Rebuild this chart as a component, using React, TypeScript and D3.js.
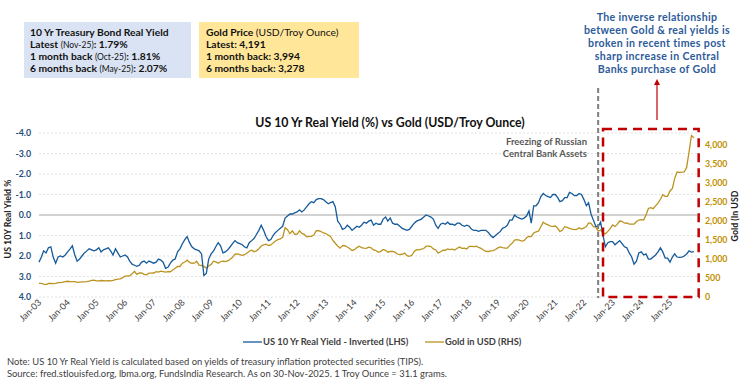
import React from 'react';
import * as d3 from 'd3';

// x axis labels, one per January
const tickLabels = [
  'Jan-03', 'Jan-04', 'Jan-05', 'Jan-06', 'Jan-07', 'Jan-08', 'Jan-09', 'Jan-10',
  'Jan-11', 'Jan-12', 'Jan-13', 'Jan-14', 'Jan-15', 'Jan-16', 'Jan-17', 'Jan-18',
  'Jan-19', 'Jan-20', 'Jan-21', 'Jan-22', 'Jan-23', 'Jan-24', 'Jan-25',
];

// monthly US 10Y real yield (%), Jan-2003 .. Nov-2025
const realYield = [
  2.30, 2.05, 1.75, 1.85, 1.60, 1.55, 2.05, 2.35, 2.05, 2.00, 2.05, 1.95,
  1.80, 1.65, 1.50, 1.95, 2.25, 2.15, 2.00, 1.85, 1.75, 1.65, 1.70, 1.75,
  1.70, 1.60, 1.80, 1.70, 1.65, 1.60, 1.75, 1.95, 1.65, 1.85, 2.05, 2.00,
  1.95, 2.05, 2.25, 2.40, 2.45, 2.50, 2.45, 2.30, 2.25, 2.35, 2.25, 2.30,
  2.35, 2.30, 2.15, 2.20, 2.30, 2.60, 2.55, 2.35, 2.20, 2.15, 1.80, 1.65,
  1.40, 1.20, 1.05, 1.35, 1.55, 1.65, 1.70, 1.75, 1.90, 2.95, 2.85, 2.15,
  1.90, 1.75, 1.55, 1.35, 1.50, 1.85, 1.80, 1.70, 1.55, 1.40, 1.25, 1.35,
  1.40, 1.45, 1.55, 1.60, 1.35, 1.25, 1.15, 0.95, 0.75, 0.50, 0.75, 1.05,
  1.25, 1.20, 1.00, 0.85, 0.75, 0.65, 0.55, 0.15, 0.05, -0.05, -0.05, -0.10,
  -0.15, -0.25, -0.15, -0.25, -0.40, -0.55, -0.65, -0.60, -0.75, -0.80, -0.80, -0.75,
  -0.65, -0.55, -0.60, -0.65, -0.40, 0.30, 0.45, 0.70, 0.65, 0.50, 0.60, 0.75,
  0.65, 0.55, 0.60, 0.50, 0.35, 0.40, 0.30, 0.25, 0.50, 0.40, 0.45, 0.45,
  0.20, 0.10, 0.30, 0.15, 0.40, 0.45, 0.45, 0.55, 0.65, 0.70, 0.75, 0.70,
  0.55, 0.40, 0.30, 0.25, 0.20, 0.10, 0.00, 0.05, 0.10, 0.20, 0.50, 0.65,
  0.45, 0.40, 0.45, 0.35, 0.45, 0.45, 0.50, 0.40, 0.40, 0.50, 0.55, 0.50,
  0.55, 0.70, 0.75, 0.75, 0.80, 0.75, 0.75, 0.75, 0.85, 1.00, 1.10, 1.00,
  0.90, 0.80, 0.65, 0.60, 0.50, 0.25, 0.25, 0.00, 0.10, 0.15, 0.20, 0.15,
  0.05, -0.20, 0.40, -0.45, -0.45, -0.60, -0.90, -1.05, -0.95, -0.90, -0.85, -1.00,
  -1.00, -0.85, -0.65, -0.70, -0.85, -0.85, -1.10, -1.05, -0.95, -0.95, -1.05, -1.00,
  -0.75, -0.45, -0.60, -0.05, 0.25, 0.55, 0.55, 0.35, 1.00, 1.55, 1.35, 1.30,
  1.30, 1.45, 1.35, 1.25, 1.40, 1.55, 1.60, 1.85, 2.05, 2.40, 2.25, 1.85,
  1.80, 1.95, 1.90, 2.15, 2.15, 2.05, 1.95, 1.80, 1.60, 1.80, 2.10, 2.10,
  2.30, 2.05, 1.90, 2.05, 2.07, 2.05, 2.00, 1.90, 1.75, 1.81, 1.79,
];

// monthly gold price (USD/troy ounce), Jan-2003 .. Nov-2025
const goldPrice = [
  356, 359, 340, 328, 355, 356, 351, 360, 379, 379, 389, 407,
  414, 405, 406, 404, 384, 392, 398, 400, 405, 420, 439, 442,
  424, 423, 434, 428, 422, 430, 424, 437, 456, 469, 476, 510,
  549, 555, 557, 610, 676, 596, 633, 632, 598, 586, 628, 629,
  631, 665, 655, 679, 667, 655, 665, 665, 712, 754, 806, 803,
  889, 922, 968, 909, 888, 889, 939, 839, 829, 806, 760, 816,
  858, 943, 924, 890, 928, 946, 934, 949, 996, 1043, 1127, 1134,
  1118, 1095, 1113, 1149, 1205, 1233, 1193, 1215, 1271, 1343, 1370, 1391,
  1356, 1372, 1424, 1474, 1510, 1528, 1572, 1825, 1772, 1665, 1739, 1652,
  1656, 1743, 1674, 1650, 1585, 1596, 1594, 1630, 1744, 1747, 1722, 1685,
  1671, 1627, 1593, 1487, 1414, 1343, 1286, 1352, 1349, 1316, 1275, 1225,
  1244, 1300, 1336, 1299, 1287, 1279, 1311, 1296, 1239, 1222, 1176, 1201,
  1251, 1227, 1179, 1198, 1199, 1181, 1131, 1117, 1125, 1159, 1086, 1068,
  1097, 1200, 1246, 1242, 1260, 1276, 1337, 1341, 1326, 1267, 1238, 1152,
  1192, 1234, 1231, 1266, 1246, 1260, 1236, 1283, 1314, 1280, 1283, 1265,
  1331, 1331, 1325, 1335, 1303, 1282, 1238, 1202, 1198, 1215, 1221, 1250,
  1291, 1320, 1300, 1286, 1284, 1359, 1413, 1500, 1510, 1495, 1471, 1480,
  1560, 1597, 1591, 1683, 1715, 1732, 1847, 1968, 1922, 1900, 1866, 1858,
  1867, 1808, 1718, 1760, 1850, 1834, 1807, 1785, 1775, 1777, 1821, 1790,
  1817, 1856, 1948, 1937, 1849, 1837, 1733, 1764, 1681, 1664, 1726, 1798,
  1898, 1855, 1912, 2000, 1992, 1943, 1951, 1919, 1916, 1916, 1985, 2026,
  2034, 2024, 2159, 2331, 2351, 2326, 2398, 2470, 2572, 2691, 2650, 2648,
  2790, 2858, 3116, 3289, 3278, 3287, 3290, 3410, 3825, 4250, 4191,
];

const yieldTicks = [-4, -3, -2, -1, 0, 1, 2, 3, 4];
const goldTicks = [0, 500, 1000, 1500, 2000, 2500, 3000, 3500, 4000];

const BLUE = '#155a9a';
const GOLD = '#bb9420';
const RED = '#c00000';
const FONT = 'Lato, "Liberation Sans", sans-serif';

const start = new Date(2003, 0, 1);
const dates = realYield.map((_, i) => d3.timeMonth.offset(start, i));
const tickDates = tickLabels.map((_, i) => d3.timeYear.offset(start, i));
const freezeDate = new Date(2022, 6, 1);
const boxStart = new Date(2022, 8, 1);
const boxEnd = new Date(2026, 0, 1);

const x = d3.scaleTime().domain([start, new Date(2025, 0, 1)]).range([39, 670]);
const yL = d3.scaleLinear().domain([-4, 4]).range([133, 297]);
const yR = d3.scaleLinear().domain([0, 4000]).range([297, 145]);

const plotRight = 697;

const yieldLine = d3.line<number>()
  .x((_, i) => x(dates[i]))
  .y(d => yL(d));

const goldLine = d3.line<number>()
  .x((_, i) => x(dates[i]))
  .y(d => yR(d));

const fmt = d3.format(',');

const noteLines = [
  'The inverse relationship',
  'between Gold & real yields is',
  'broken in recent times post',
  'sharp increase in Central',
  'Banks purchase of Gold',
];

export default function App() {
  return (
    <svg width={746} height={385} style={{ position: 'absolute', left: 0, top: 0, background: '#fff' }} fontFamily={FONT}>
      <defs>
        <marker id="arr" viewBox="0 0 10 10" refX="5" refY="5" markerWidth="5" markerHeight="5" orient="auto">
          <path d="M0,0 L10,5 L0,10 z" fill={RED} />
        </marker>
      </defs>

      {/* info boxes */}
      <rect x={24} y={22} width={167} height={56} fill="#dae3f3" />
      <g fontSize={10.3} fontWeight="bold" fill="#111">
        <text x={30} y={36}>10 Yr Treasury Bond Real Yield</text>
        <text x={30} y={48}>Latest <tspan fontWeight="normal" fontSize={8.5}>(Nov-25)</tspan>: 1.79%</text>
        <text x={30} y={60}>1 month back <tspan fontWeight="normal" fontSize={8.5}>(Oct-25)</tspan>: 1.81%</text>
        <text x={30} y={72}>6 months back <tspan fontWeight="normal" fontSize={8.5}>(May-25)</tspan>: 2.07%</text>
      </g>
      <rect x={199} y={22} width={160} height={56} fill="#ffe699" />
      <g fontSize={10.3} fontWeight="bold" fill="#111">
        <text x={206} y={36}>Gold Price <tspan fontWeight="normal">(USD/Troy Ounce)</tspan></text>
        <text x={206} y={48}>Latest: 4,191</text>
        <text x={206} y={60}>1 month back: 3,994</text>
        <text x={206} y={72}>6 months back: 3,278</text>
      </g>

      {/* top-right annotation */}
      <g fontSize={10.6} fontWeight="bold" fill="#2e5b9a" textAnchor="middle" letterSpacing={0.35}>
        {noteLines.map((l, i) => (
          <text key={l} x={657} y={21 + i * 13}>{l}</text>
        ))}
      </g>
      <line x1={657} y1={120} x2={657} y2={82} stroke={RED} strokeWidth={1.2} markerEnd="url(#arr)" />

      {/* title */}
      <text x={390} y={127} textAnchor="middle" fontSize={12.3} fontWeight="bold" fill="#111">
        US 10 Yr Real Yield (%) vs Gold (USD/Troy Ounce)
      </text>

      {/* gridlines */}
      {yieldTicks.map(t => (
        <line key={t} x1={39} x2={plotRight} y1={yL(t)} y2={yL(t)}
          stroke={t === 0 ? '#a6a6a6' : '#d9d9d9'} strokeWidth={t === 0 ? 1.2 : 0.8}
          strokeDasharray={t === 0 ? undefined : '2,2'} />
      ))}

      {/* left axis */}
      <g fontSize={8.8} fontWeight="bold" fill="#1f4e79" textAnchor="end">
        {yieldTicks.map(t => (
          <text key={t} x={31} y={yL(t) + 3}>{t.toFixed(1)}</text>
        ))}
      </g>
      <text transform="translate(11,219) rotate(-90)" textAnchor="middle" fontSize={8.8} fontWeight="bold" fill="#222">
        US 10Y  Real Yield %
      </text>

      {/* right axis */}
      <g fontSize={8.8} fontWeight="bold" fill="#bf9000">
        {goldTicks.map(t => (
          <text key={t} x={705} y={yR(t) + 3}>{fmt(t)}</text>
        ))}
      </g>
      <text transform="translate(738,216) rotate(-90)" textAnchor="middle" fontSize={8.8} fontWeight="bold" fill="#222">
        Gold  (In USD
      </text>

      {/* x axis labels */}
      <g fontSize={9} fill="#404040" textAnchor="end">
        {tickLabels.map((l, i) => (
          <text key={l} transform={`translate(${x(tickDates[i]) + 3},${303}) rotate(-45)`}>{l}</text>
        ))}
      </g>

      {/* series */}
      <path d={goldLine(goldPrice) ?? ''} fill="none" stroke={GOLD} strokeWidth={1.3} />
      <path d={yieldLine(realYield) ?? ''} fill="none" stroke={BLUE} strokeWidth={1.3} />

      {/* freeze line */}
      <line x1={x(freezeDate)} x2={x(freezeDate)} y1={88} y2={298} stroke="#7f7f7f" strokeWidth={2} strokeDasharray="5,3" />
      <g fontSize={9.5} fontWeight="bold" fill="#595959" textAnchor="end">
        <text x={587} y={145}>Freezing  of Russian</text>
        <text x={587} y={157}>Central Bank Assets</text>
      </g>

      {/* highlighted box */}
      <rect x={x(boxStart)} y={yL(-4.2)} width={x(boxEnd) - x(boxStart)} height={yL(4) - yL(-4.2)}
        fill="none" stroke={RED} strokeWidth={2.5} strokeDasharray="9,6" />

      {/* legend */}
      <line x1={243} x2={262} y1={342} y2={342} stroke={BLUE} strokeWidth={1.3} />
      <text x={263} y={345} fontSize={9.3} fontWeight="bold" fill="#404040">US 10 Yr Real Yield - Inverted (LHS)</text>
      <line x1={425} x2={444} y1={342} y2={342} stroke={GOLD} strokeWidth={1.3} />
      <text x={445} y={345} fontSize={9.3} fontWeight="bold" fill="#404040">Gold in USD (RHS)</text>

      {/* notes */}
      <g fontSize={9.4} fill="#404040">
        <text x={7} y={365}>Note: US 10 Yr Real Yield is calculated based on yields of treasury inflation protected securities (TIPS).</text>
        <text x={7} y={377}>Source: fred.stlouisfed.org, lbma.org, FundsIndia Research. As on 30-Nov-2025. 1 Troy Ounce = 31.1 grams.</text>
      </g>
    </svg>
  );
}
